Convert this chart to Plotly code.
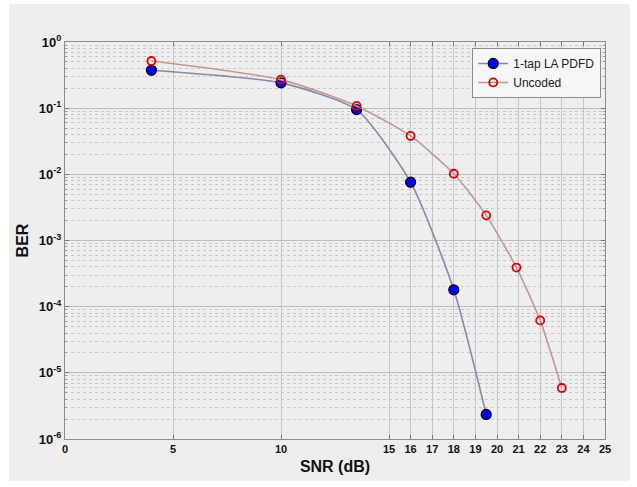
import plotly.graph_objects as go

# SNR points (dB) and measured bit error rates
snr_pdfd = [4, 10, 13.5, 16, 18, 19.5]
ber_pdfd = [0.374, 0.241, 0.095, 0.0076, 1.8e-4, 2.35e-6]

snr_uncoded = [4, 10, 13.5, 16, 18, 19.5, 20.9, 22, 23]
ber_uncoded = [0.516, 0.27, 0.108, 0.038, 0.0102, 0.0024, 3.9e-4, 6.2e-5, 5.9e-6]

x_ticks = [0, 5, 10, 15, 16, 17, 18, 19, 20, 21, 22, 23, 24, 25]
y_tick_exps = [0, -1, -2, -3, -4, -5, -6]

W, H = 637, 487
ML, MR, MT, MB = 65, 32, 42, 48
PW, PH = W - ML - MR, H - MT - MB

fig = go.Figure()

fig.add_trace(go.Scatter(
    x=snr_pdfd, y=ber_pdfd, name="1-tap LA PDFD",
    mode="lines+markers",
    line=dict(color="#8888a8", width=1.6, shape="spline", smoothing=0.6),
    marker=dict(symbol="circle", size=10, color="#0000ff",
                line=dict(color="#000000", width=1.2)),
))
fig.add_trace(go.Scatter(
    x=snr_uncoded, y=ber_uncoded, name="Uncoded",
    mode="lines+markers",
    line=dict(color="#c49696", width=1.6, shape="spline", smoothing=0.6),
    marker=dict(symbol="circle-open", size=8, color="#e00000",
                line=dict(color="#e00000", width=1.8)),
))

# light panel behind the whole figure, leaving a thin white rim
fig.add_shape(type="rect", xref="paper", yref="paper", layer="below",
              x0=(9 - ML) / PW, x1=(630 - ML) / PW,
              y0=1 - (481 - MT) / PH, y1=1 - (4 - MT) / PH,
              fillcolor="#eeeeee", line=dict(width=0))

fig.update_layout(
    width=W, height=H,
    margin=dict(l=ML, r=MR, t=MT, b=MB),
    paper_bgcolor="#ffffff",
    plot_bgcolor="#f3f3f3",
    font=dict(family="Liberation Sans, Arial, sans-serif", color="#111111"),
    showlegend=True,
    legend=dict(x=0.993, y=0.985, xanchor="right", yanchor="top",
                bgcolor="#f6f6f6", bordercolor="#8c8c8c", borderwidth=1,
                font=dict(size=12, color="#222222"),
                tracegroupgap=0, itemwidth=30),
)

fig.update_xaxes(
    range=[0, 25],
    tickvals=x_ticks, ticktext=[str(v) for v in x_ticks],
    tickfont=dict(size=11, family="Liberation Sans, Arial, sans-serif", weight="bold"),
    showgrid=True, gridcolor="#c6c6c6", gridwidth=1,
    ticks="inside", ticklen=4, tickcolor="#777777",
    showline=True, linecolor="#8c8c8c", linewidth=1, mirror="ticks",
    zeroline=False,
    title=dict(text="SNR (dB)", font=dict(size=16, weight="bold"), standoff=6),
)

fig.update_yaxes(
    type="log", range=[-6, 0],
    tickvals=[10 ** e for e in y_tick_exps],
    ticktext=[f"10<sup>{e}</sup>" for e in y_tick_exps],
    tickfont=dict(size=13, family="Liberation Sans, Arial, sans-serif", weight="bold"),
    showgrid=True, gridcolor="#bdbdbd", gridwidth=1,
    ticks="inside", ticklen=4, tickcolor="#777777",
    minor=dict(dtick="D1", showgrid=True, gridcolor="#c9c9c9", griddash="dot",
               ticks="inside", ticklen=2, tickcolor="#999999"),
    showline=True, linecolor="#8c8c8c", linewidth=1, mirror="ticks",
    zeroline=False,
    title=dict(text="BER", font=dict(size=16, weight="bold"), standoff=6),
)

fig.write_html("out.html")
